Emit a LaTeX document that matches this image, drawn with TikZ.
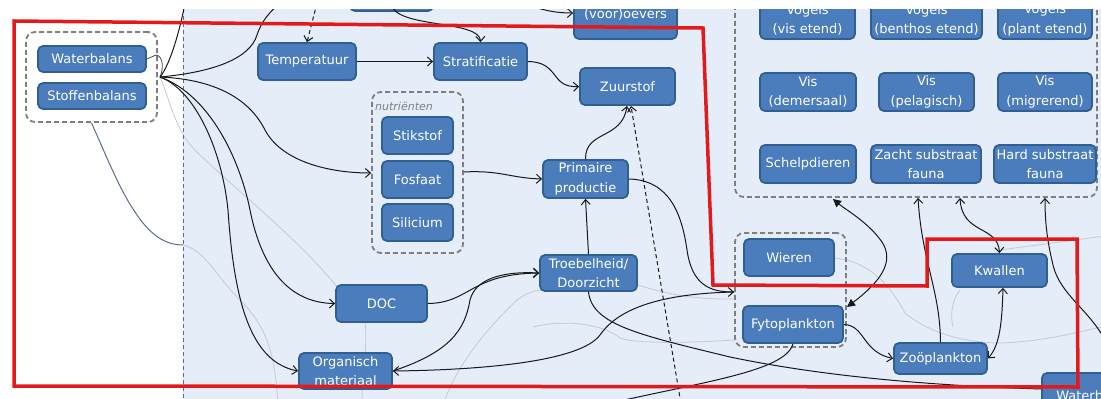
\documentclass[tikz,border=0pt]{standalone}
\usepackage{fontspec}
\setmainfont{DejaVu Sans}
\usetikzlibrary{arrows.meta}
\definecolor{bgblue}{HTML}{E4EDF8}
\definecolor{boxfill}{HTML}{4B7DBD}
\definecolor{boxedge}{HTML}{2F5F93}
\definecolor{grpgray}{HTML}{7F7F7F}
\definecolor{faint}{HTML}{C3CAD4}
\definecolor{divider}{HTML}{5A6E8A}
\definecolor{outline}{HTML}{E31A1C}
\tikzset{
  box/.style={rectangle, rounded corners=5pt, fill=boxfill, draw=boxedge,
    line width=1.8pt, text=white, align=center, inner sep=0pt,
    font=\fontsize{13}{19.5}\selectfont},
  grp/.style={rectangle, rounded corners=9pt, draw=grpgray, line width=1.8pt,
    dash pattern=on 5pt off 3pt},
  link/.style={draw=black!90, line width=1pt, -{Straight Barb[length=5pt,width=9pt]}},
  dlink/.style={link, {Straight Barb[length=5pt,width=9pt]}-{Straight Barb[length=5pt,width=9pt]}},
  flink/.style={draw=black!90, line width=1pt, {Triangle[length=8pt,width=8pt]}-{Triangle[length=8pt,width=8pt]}},
  dashlink/.style={link, dash pattern=on 4pt off 3pt},
  bgline/.style={draw=faint, line width=0.8pt},
}
\begin{document}
\begin{tikzpicture}[x=1pt,y=-1pt]
\useasboundingbox (0,0) rectangle (1101,399);
\begin{scope}
\clip (0,9) rectangle (1101,399);
% water area background
\fill[bgblue] (183,9) rectangle (1101,399);

% faint outlines of the area
\draw[bgline] (183,245) .. controls (205,250) and (215,275) .. (240,300) .. controls (265,325) and (275,350) .. (278,405);
\draw[bgline] (160,77) .. controls (170,100) and (175,130) .. (195,150) .. controls (230,185) and (300,240) .. (337,287);
\draw[bgline] (365,323) .. controls (368,345) and (362,370) .. (362,405);
\draw[bgline] (443,405) .. controls (455,370) and (480,335) .. (517,300) .. controls (528,292) and (535,290) .. (545,290);
\draw[bgline] (533,327) .. controls (560,320) and (600,322) .. (620,338) .. controls (640,345) and (700,342) .. (735,340);
\draw[bgline] (638,285) .. controls (660,292) and (690,300) .. (735,299);
\draw[bgline] (835,258) .. controls (870,262) and (890,285) .. (905,313) .. controls (925,330) and (960,343) .. (1000,343) .. controls (1040,342) and (1080,332) .. (1105,326);
\draw[bgline] (960,290) .. controls (952,300) and (950,315) .. (953,327);
\draw[bgline] (1000,250) .. controls (1030,246) and (1060,242) .. (1105,236);

% vertical divider
\draw[divider, line width=1pt, dash pattern=on 4pt off 3pt] (183,9) -- (183,399);

% source group
\node[grp, minimum width=131, minimum height=90] (g1) at (91.5,77) {};
\node[box, minimum width=108, minimum height=26] (wb) at (92,59) {Waterbalans};
\node[box, minimum width=108, minimum height=26] (sb) at (92,96) {Stoffenbalans};
\coordinate (hub) at (160,77);
\draw[divider, line width=1pt] (g1.south) .. controls (108,160) and (120,190) .. (135,212) .. controls (150,235) and (165,245) .. (183,245);
\draw[black!70, line width=0.8pt] (wb.east) -- (156,55) .. controls (163,56) and (164,68) .. (hub);

% abiotic nodes
\node[box, minimum width=83, minimum height=31] (top1) at (391.5,-4.5) {};
\node[box, minimum width=98, minimum height=37] (temp) at (307,61.5) {Temperatuur};
\node[box, minimum width=93, minimum height=37] (strat) at (480.5,61.5) {Stratificatie};
\node[box, minimum width=95, minimum height=37] (zuur) at (627.5,86.5) {Zuurstof};
\node[box, minimum width=103, minimum height=50] (oev) at (625.5,14) {\raisebox{-8pt}{(voor)oevers}};

\node[grp, minimum width=91, minimum height=161] (gn) at (417.5,172.5) {};
\node[anchor=west, text=grpgray, font=\itshape\fontsize{11}{12}\selectfont, inner sep=0pt] (nlab) at (375,106) {nutriënten};
\node[box, minimum width=71, minimum height=37] (stik) at (417.5,135.5) {Stikstof};
\node[box, minimum width=71, minimum height=37] (fosf) at (417.5,179.5) {Fosfaat};
\node[box, minimum width=71, minimum height=37] (sili) at (417.5,222.5) {Silicium};

\node[box, minimum width=85, minimum height=38] (prim) at (585.5,179) {Primaire\\productie};
\node[box, minimum width=97, minimum height=36] (troeb) at (588.5,273) {Troebelheid/\\Doorzicht};
\node[box, minimum width=91, minimum height=37] (doc) at (381.5,303.5) {DOC};
\node[box, minimum width=93, minimum height=36] (org) at (345.5,371) {Organisch\\materiaal};

% primary producers and plankton
\node[grp, minimum width=111, minimum height=114] (g2) at (790.5,290) {};
\node[box, minimum width=90, minimum height=37] (wier) at (789,257.5) {Wieren};
\node[box, minimum width=100, minimum height=37] (fyto) at (793,324.5) {Fytoplankton};
\node[box, minimum width=93, minimum height=31] (zoo) at (940.5,358.5) {Zoöplankton};
\node[box, minimum width=95, minimum height=33] (kwal) at (999.5,270.5) {Kwallen};
\node[box, minimum width=110, minimum height=46] (wat) at (1097,396) {Waterbalans};

% higher trophic levels
\node[grp, minimum width=362, minimum height=227] (g3) at (916,83.5) {};
\node[box, minimum width=95, minimum height=38] (v1) at (807.5,20) {Vogels\\(vis etend)};
\node[box, minimum width=111, minimum height=38] (v2) at (926.5,20) {Vogels\\(benthos etend)};
\node[box, minimum width=94, minimum height=38] (v3) at (1045,20) {Vogels\\(plant etend)};
\node[box, minimum width=96, minimum height=38] (vis1) at (808,92) {Vis\\(demersaal)};
\node[box, minimum width=95, minimum height=38] (vis2) at (926.5,92) {Vis\\(pelagisch)};
\node[box, minimum width=94, minimum height=38] (vis3) at (1045,92) {Vis\\(migrerend)};
\node[box, minimum width=96, minimum height=38] (sch) at (808,164) {Schelpdieren};
\node[box, minimum width=110, minimum height=38] (zacht) at (926,164) {Zacht substraat\\fauna};
\node[box, minimum width=102, minimum height=38] (hard) at (1045,164) {Hard substraat\\fauna};

% free ends of connectors leaving the view
\coordinate (e1) at (185,3);
\coordinate (e2) at (280,3);
\coordinate (e3) at (392,5);
\coordinate (e4) at (525,3);
\coordinate (e5) at (317,3);
\coordinate (e6) at (682,410);
\coordinate (e7) at (598,406);
\coordinate (e8) at (1106,342);

% connectors from the balances
\draw[draw=black!90, line width=1pt] (hub) .. controls (170,65) and (180,30) .. (e1);
\draw[draw=black!90, line width=1pt] (hub) .. controls (215,72) and (250,58) .. (257,35) .. controls (262,20) and (270,12) .. (e2);
\draw[link] (hub) .. controls (230,80) and (255,110) .. (265,130) .. controls (282,162) and (330,173) .. (gn.west |- 0,173);
\draw[link] (hub) .. controls (210,95) and (240,160) .. (250,210) .. controls (262,270) and (290,303) .. (doc.west);
\draw[link] (hub) .. controls (195,90) and (222,150) .. (228,210) .. controls (234,300) and (250,362) .. (org.west);

% abiotic links
\draw[dashlink] (e5) -- (temp.north);
\draw[link] (temp.east) -- (strat.west);
\draw[link] (e3) .. controls (396,28) and (480,20) .. (strat.north);
\draw[link] (e4) .. controls (540,10) and (555,13) .. (oev.west |- 0,13);
\draw[link] (strat.east) .. controls (560,62) and (550,88) .. (zuur.west);
\draw[link] (prim.north) .. controls (585,130) and (622,140) .. (627,106);
\draw[dashlink] (e6) -- (631,106);
\draw[link] (gn.east |- 0,172) .. controls (500,170) and (510,178) .. (prim.west);
\draw[link] (troeb.north) -- (prim.south);
\draw[link] (doc.east) .. controls (470,303) and (470,274) .. (troeb.west);
\draw[link] (org.east) .. controls (450,352) and (465,330) .. (470,300) .. controls (475,280) and (500,271) .. (troeb.west);
\draw[link] (g2.west |- 0,292) .. controls (640,294) and (612,318) .. (600,335) .. controls (580,362) and (480,370) .. (org.east);
\draw[link] (prim.east) .. controls (670,180) and (682,215) .. (687,250) .. controls (692,285) and (710,292) .. (g2.west |- 0,292);
\draw[draw=black!90, line width=1pt] (troeb.south) .. controls (592,325) and (640,335) .. (730,357) .. controls (850,382) and (980,387) .. (wat.west |- 0,389);
\draw[draw=black!90, line width=1pt] (fyto.south) .. controls (785,372) and (700,382) .. (e7);

% food web links
\draw[link] (fyto.east) .. controls (865,325) and (862,352) .. (zoo.west);
\draw[dlink] (kwal.south -| 1003,0) .. controls (1002,322) and (1000,345) .. (zoo.east);
\draw[link] (zoo.north) .. controls (940,290) and (922,262) .. (g3.south -| 918,0);
\draw[dlink] (kwal.north) .. controls (998,225) and (962,235) .. (g3.south -| 960,0);
\draw[flink] (847,307) .. controls (880,282) and (895,262) .. (882,242) .. controls (868,222) and (846,210) .. (833,199);
\draw[link] (e8) .. controls (1090,310) and (1060,295) .. (1053,265) .. controls (1047,240) and (1045,222) .. (g3.south -| 1045,0);

% study area outline
\draw[outline, line width=3.5pt, line join=miter] (14,21) -- (703,28) -- (713,285) -- (927,286) -- (927,239) -- (1077,239) -- (1078,387) -- (14,386) -- cycle;
\end{scope}
\end{tikzpicture}
\end{document}
